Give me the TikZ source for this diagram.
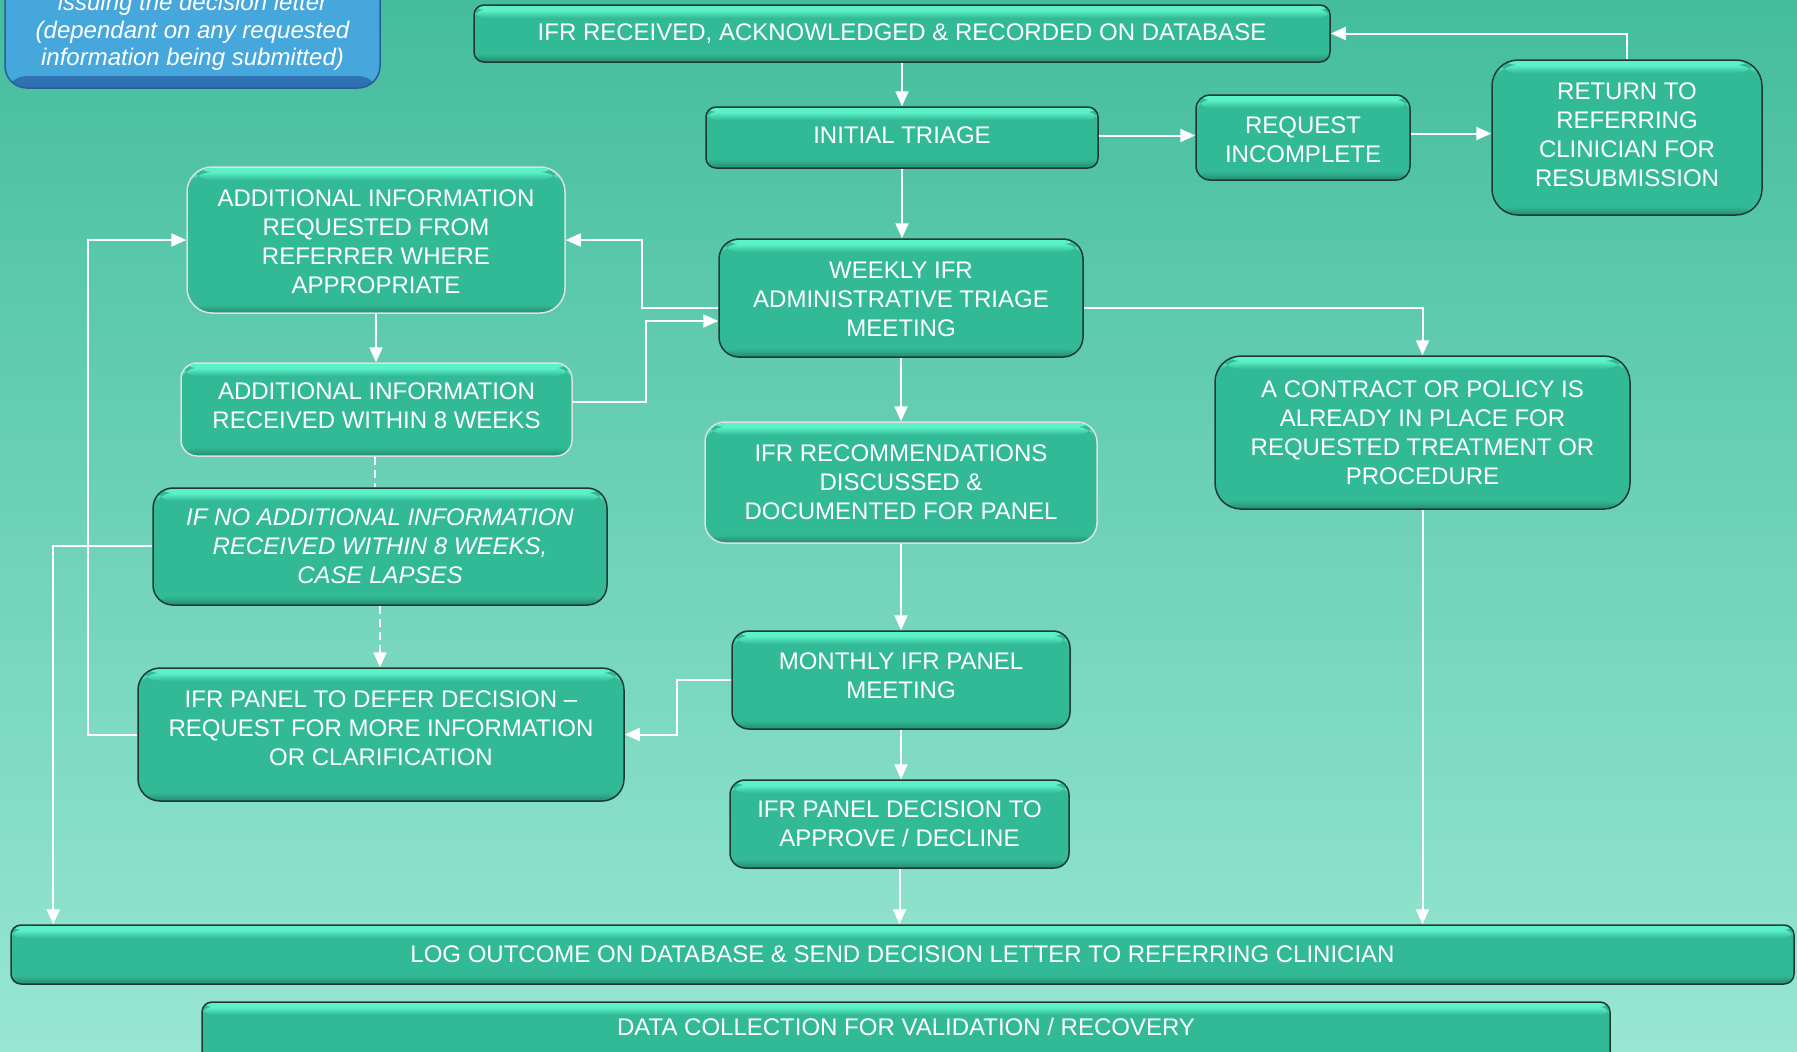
\documentclass[tikz,border=0pt]{standalone}
\usepackage{fontspec}
\setmainfont{Liberation Sans}
\usetikzlibrary{arrows.meta,calc}
\definecolor{bgtop}{RGB}{68,189,157}
\definecolor{bgbot}{RGB}{152,231,211}
\definecolor{boxmain}{RGB}{50,186,151}
\definecolor{boxhl}{RGB}{92,242,200}
\definecolor{boxdk}{RGB}{30,58,50}
\definecolor{boxlow}{RGB}{36,140,112}
\definecolor{bluemain}{RGB}{70,167,220}
\definecolor{bluedk}{RGB}{40,95,150}
\definecolor{bluelow}{RGB}{45,110,175}
\begin{document}
\begin{tikzpicture}[x=1pt,y=-1pt,
  ttext/.style={text=white, align=center, font=\fontsize{24}{29}\selectfont, inner sep=0pt},
  tbox/.style={ttext, draw=boxdk, line width=1.5pt, fill=boxmain,
    path picture={
      \fill[boxhl] ([yshift=-1pt]path picture bounding box.north west) rectangle ([yshift=-5pt]path picture bounding box.north east);
      \shade[top color=boxhl, bottom color=boxmain] ([yshift=-5pt]path picture bounding box.north west) rectangle ([yshift=-13pt]path picture bounding box.north east);
      \shade[top color=boxmain, bottom color=boxlow] ([yshift=9pt]path picture bounding box.south west) rectangle (path picture bounding box.south east);
    }},
  lbox/.style={tbox, draw=white!75!gray},
  bluebox/.style={draw=bluedk, line width=1.5pt, fill=bluemain, text=white, align=center,
    font=\fontsize{24}{27.5}\selectfont\itshape, inner sep=0pt,
    path picture={
      \shade[top color=bluemain, bottom color=bluelow] ([yshift=12pt]path picture bounding box.south west) rectangle (path picture bounding box.south east);
    }},
  conn/.style={draw=white, line width=2pt, -{Triangle[length=15pt,width=13pt]}},
  plain/.style={draw=white, line width=2pt},
  dconn/.style={conn, dash pattern=on 8pt off 5pt},
  dplain/.style={plain, dash pattern=on 8pt off 5pt}
]
\useasboundingbox (0,0) rectangle (1797,1052);
\shade[top color=bgtop, bottom color=bgbot] (0,0) rectangle (1797,1052);

% nodes
\node[bluebox, minimum width=375pt, minimum height=112pt, rounded corners=22pt] (note) at (192.5,32)
  {issuing the decision letter\\(dependant on any requested\\information being submitted)};
\node[tbox, minimum width=856pt, minimum height=57pt, rounded corners=10pt] (recv) at (902,33.5)
  {IFR RECEIVED, ACKNOWLEDGED \& RECORDED ON DATABASE};
\node[tbox, minimum width=392pt, minimum height=61pt, rounded corners=10pt,
  label={[ttext,yshift=2.3pt]center:{INITIAL TRIAGE}}] (triage) at (902,137.5) {};
\node[tbox, minimum width=214pt, minimum height=85pt, rounded corners=14pt,
  label={[ttext,yshift=-2.3pt]center:{REQUEST\\INCOMPLETE}}] (incomplete) at (1303,137.5) {};
\node[tbox, minimum width=270pt, minimum height=155pt, rounded corners=26pt,
  label={[ttext,yshift=2.3pt]center:{RETURN TO\\REFERRING\\CLINICIAN FOR\\RESUBMISSION}}] (return) at (1627,137.5) {};
\node[lbox, minimum width=378pt, minimum height=146pt, rounded corners=25pt,
  label={[ttext,yshift=-1.5pt]center:{ADDITIONAL INFORMATION\\REQUESTED FROM\\REFERRER WHERE\\APPROPRIATE}}] (addreq) at (376,240) {};
\node[lbox, minimum width=391pt, minimum height=93pt, rounded corners=16pt,
  label={[ttext,yshift=3.5pt]center:{ADDITIONAL INFORMATION\\RECEIVED WITHIN 8 WEEKS}}] (addrec) at (376.5,409.5) {};
\node[tbox, minimum width=454pt, minimum height=117pt, rounded corners=20pt, font=\fontsize{24}{29}\selectfont\itshape] (ifno) at (380,546.5)
  {IF NO ADDITIONAL INFORMATION\\RECEIVED WITHIN 8 WEEKS,\\CASE LAPSES};
\node[tbox, minimum width=486pt, minimum height=133pt, rounded corners=22pt,
  label={[ttext,yshift=6.5pt]center:{IFR PANEL TO DEFER DECISION --\\REQUEST FOR MORE INFORMATION\\OR CLARIFICATION}}] (defer) at (381,734.5) {};
\node[tbox, minimum width=364pt, minimum height=118pt, rounded corners=20pt,
  label={[ttext,yshift=-1.5pt]center:{WEEKLY IFR\\ADMINISTRATIVE TRIAGE\\MEETING}}] (weekly) at (901,298) {};
\node[lbox, minimum width=392pt, minimum height=121pt, rounded corners=20pt] (recomm) at (901,482.5)
  {IFR RECOMMENDATIONS\\DISCUSSED \&\\DOCUMENTED FOR PANEL};
\node[tbox, minimum width=415pt, minimum height=153pt, rounded corners=26pt] (contract) at (1422.5,432.5)
  {A CONTRACT OR POLICY IS\\ALREADY IN PLACE FOR\\REQUESTED TREATMENT OR\\PROCEDURE};
\node[tbox, minimum width=338pt, minimum height=98pt, rounded corners=17pt,
  label={[ttext,yshift=4.5pt]center:{MONTHLY IFR PANEL\\MEETING}}] (monthly) at (901,680) {};
\node[tbox, minimum width=339pt, minimum height=88pt, rounded corners=15pt] (decision) at (899.5,824)
  {IFR PANEL DECISION TO\\APPROVE / DECLINE};
\node[tbox, minimum width=1783pt, minimum height=59pt, rounded corners=10pt] (log) at (902.5,954.5)
  {LOG OUTCOME ON DATABASE \& SEND DECISION LETTER TO REFERRING CLINICIAN};
\node[tbox, minimum width=1408pt, minimum height=60pt, rounded corners=10pt,
  label={[ttext,yshift=5pt]center:{DATA COLLECTION FOR VALIDATION / RECOVERY}}] (data) at (906,1032) {};

% connectors
\draw[conn] (recv.south) -- (recv.south |- triage.north);
\draw[conn] ([yshift=2pt]triage.east) -- ([yshift=2pt]triage.east -| incomplete.west);
\draw[conn] ([yshift=4pt]incomplete.east) -- ([yshift=4pt]incomplete.east -| return.west);
\draw[conn] (return.north) |- (recv.east);
\draw[conn] (triage.south) -- (triage.south |- weekly.north);
\draw[conn] ([yshift=-10pt]weekly.west) -- ++(-76,0) |- (addreq.east);
\draw[conn] (addreq.south) -- (addreq.south |- addrec.north);
\draw[conn] ([yshift=8pt]addrec.east) -- ++(73,0) |- ([yshift=-23pt]weekly.west);
\draw[dplain] ([xshift=-2pt]addrec.south) -- ([xshift=-2pt]addrec.south |- ifno.north);
\draw[dconn] (ifno.south) -- (ifno.south |- defer.north);
\draw[conn] ([yshift=1pt]ifno.west) -| ([xshift=43pt]log.north west);
\draw[conn] (defer.west) -- ++(-49,0) |- (addreq.west);
\draw[conn] (monthly.west) -- ++(-54,0) |- (defer.east);
\draw[conn] (weekly.south) -- (weekly.south |- recomm.north);
\draw[conn] ([yshift=-10pt]weekly.east) -| (contract.north);
\draw[conn] (recomm.south) -- (recomm.south |- monthly.north);
\draw[conn] (monthly.south) -- (monthly.south |- decision.north);
\draw[conn] (decision.south) -- (decision.south |- log.north);
\draw[conn] (contract.south) -- (contract.south |- log.north);
\end{tikzpicture}
\end{document}
